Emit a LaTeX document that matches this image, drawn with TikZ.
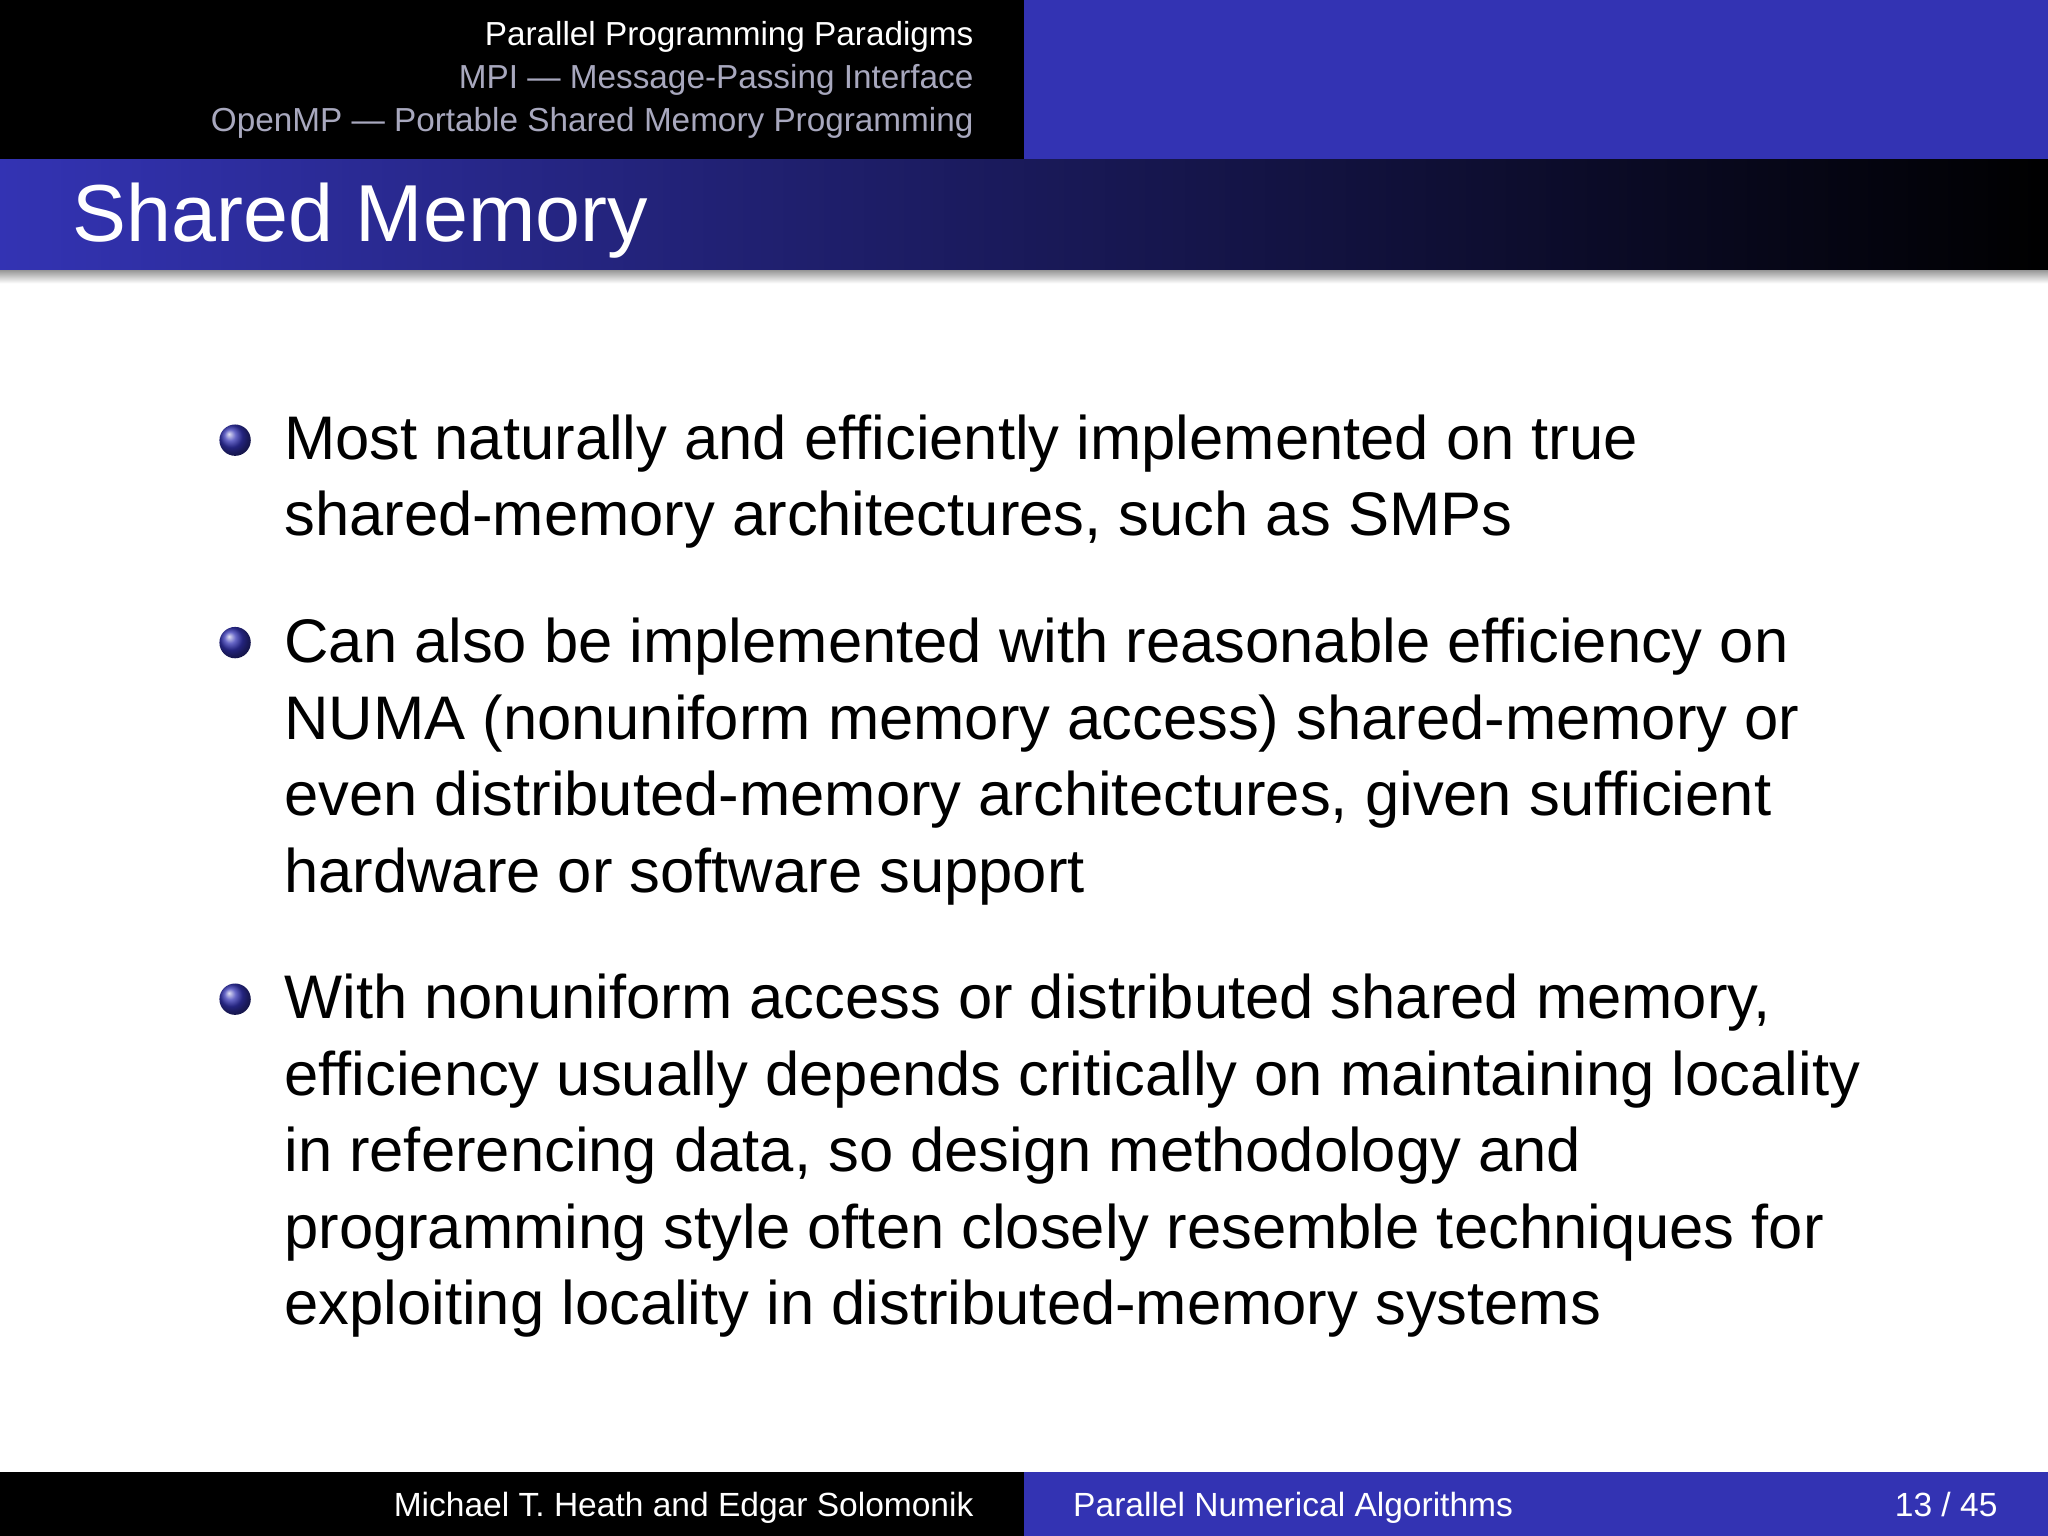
\documentclass[tikz,border=0pt]{standalone}
\usepackage{fontspec}
\setmainfont{Liberation Sans}
\definecolor{bblue}{RGB}{51,51,179}
\definecolor{hgrey}{RGB}{168,168,190}
\tikzset{
  body/.style={anchor=base west,inner sep=0pt,font=\fontsize{13.4}{16}\selectfont},
  hdr/.style={anchor=base east,inner sep=0pt,font=\fontsize{7.25}{9}\selectfont},
  ftr/.style={inner sep=0pt,text=white,font=\fontsize{7.3}{9}\selectfont},
  ball/.style={circle,inner sep=0pt,minimum size=0.24cm,ball color=bblue}
}
\begin{document}
\begin{tikzpicture}[x=0.01cm,y=-0.01cm]
\useasboundingbox (0,0) rectangle (1568,1176);
\fill[white] (0,0) rectangle (1568,1176);
% header
\fill[black] (0,0) rectangle (784,122);
\fill[bblue] (784,0) rectangle (1568,122);
\node[hdr,text=white] (h1) at (746,35) {Parallel Programming Paradigms};
\node[hdr,text=hgrey] (h2) at (746,68) {MPI --- Message-Passing Interface};
\node[hdr,text=hgrey] (h3) at (746,101) {OpenMP --- Portable Shared Memory Programming};
% title bar
\shade[left color=bblue,right color=black] (0,122) rectangle (1568,207);
\shade[top color=black!40,bottom color=white] (0,207) rectangle (1568,217);
\node[anchor=base west,inner sep=0pt,text=white,font=\fontsize{17.6}{20}\selectfont] (title) at (55,185) {Shared Memory};
% bullets
\node[ball] (b1) at (180,337) {};
\node[ball] (b2) at (180,492) {};
\node[ball] (b3) at (180,765) {};
\node[body] (l1) at (217,352) {Most naturally and efficiently implemented on true};
\node[body] (l2) at (217,410) {shared-memory architectures, such as SMPs};
\node[body] (l3) at (217,507) {Can also be implemented with reasonable efficiency on};
\node[body] (l4) at (217,566) {NUMA (nonuniform memory access) shared-memory or};
\node[body] (l5) at (217,624) {even distributed-memory architectures, given sufficient};
\node[body] (l6) at (217,683) {hardware or software support};
\node[body] (l7) at (217,780) {With nonuniform access or distributed shared memory,};
\node[body] (l8) at (217,839) {efficiency usually depends critically on maintaining locality};
\node[body] (l9) at (217,897) {in referencing data, so design methodology and};
\node[body] (l10) at (217,956) {programming style often closely resemble techniques for};
\node[body] (l11) at (217,1014) {exploiting locality in distributed-memory systems};
% footer
\fill[black] (0,1127) rectangle (784,1176);
\fill[bblue] (784,1127) rectangle (1568,1176);
\node[ftr,anchor=base east] (f1) at (746,1161) {Michael T. Heath and Edgar Solomonik};
\node[ftr,anchor=base west] (f2) at (821,1161) {Parallel Numerical Algorithms};
\node[ftr,anchor=base east] (f3) at (1530,1161) {13 / 45};
\end{tikzpicture}
\end{document}
